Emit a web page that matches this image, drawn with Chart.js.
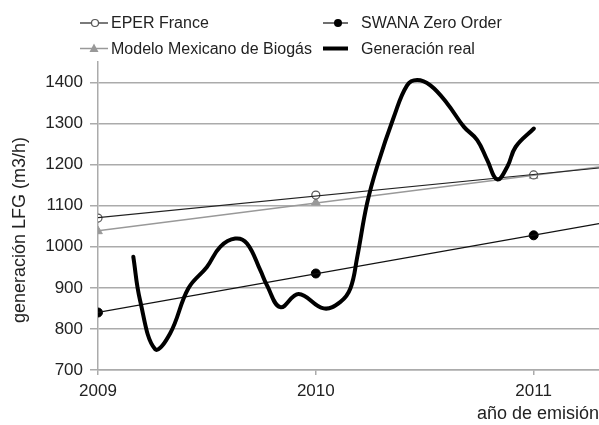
<!DOCTYPE html>
<html>
<head>
<meta charset="utf-8">
<script src="https://cdn.jsdelivr.net/npm/chart.js@4.4.1/dist/chart.umd.min.js"></script>
<style>
  html, body { margin: 0; padding: 0; background: #fff; }
  #wrap { width: 599px; height: 425px; position: relative; }
</style>
</head>
<body>
<div id="wrap"><canvas id="c" width="599" height="425"></canvas></div>
<script>
// ---- data ----
const years = [2009, 2010, 2011];
const yearTicks = [2009, 2010, 2011];
const yTicks = [700, 800, 900, 1000, 1100, 1200, 1300, 1400];
const eperFrance = [1070, 1126, 1175];
const modeloMexicano = [1038, 1108, 1173];
const swanaZeroOrder = [840, 935, 1028];
const realX = [2009.162, 2009.193, 2009.262, 2009.331, 2009.415, 2009.5, 2009.561, 2009.63, 2009.684,
  2009.745, 2009.775, 2009.837, 2009.921, 2010.036, 2010.113, 2010.159, 2010.19, 2010.235, 2010.281,
  2010.358, 2010.419, 2010.465, 2010.526, 2010.603, 2010.68, 2010.741, 2010.787, 2010.833, 2010.879,
  2010.917, 2011.001];
const realY = [976, 870, 751, 789, 899, 951, 1000, 1020, 1008,
  943, 907, 853, 885, 850, 866, 899, 975, 1105, 1195,
  1316, 1393, 1406, 1393, 1349, 1292, 1260, 1211, 1164, 1195,
  1243, 1288];
const labels = ['EPER France', 'SWANA Zero Order', 'Modelo Mexicano de Biogás', 'Generación real'];
const xMin = 2009, xMax = 2011.3, yMin = 700, yMax = 1450;

// linear trend line (least squares) from a series
function trend(xs, ys) {
  const n = xs.length;
  const mx = xs.reduce((a, b) => a + b, 0) / n;
  const my = ys.reduce((a, b) => a + b, 0) / n;
  let sxy = 0, sxx = 0;
  for (let i = 0; i < n; i++) { sxy += (xs[i] - mx) * (ys[i] - my); sxx += (xs[i] - mx) ** 2; }
  const b = sxy / sxx, a = my - b * mx;
  return [{ x: xMin, y: a + b * xMin }, { x: xMax, y: a + b * xMax }];
}
const pts = (xs, ys) => xs.map((x, i) => ({ x, y: ys[i] }));

const FONT = '"Liberation Sans", Arial, Helvetica, sans-serif';
const TXT = '#222';
const GRID = '#ababab';

const legendPlugin = {
  id: 'customLegend',
  afterDraw(chart) {
    const ctx = chart.ctx;
    ctx.save();
    ctx.font = '16px ' + FONT;
    ctx.fillStyle = TXT;
    ctx.textBaseline = 'middle';
    ctx.textAlign = 'left';
    const items = [
      { label: labels[0], lx: 80, rx: 108, mx: 95, tx: 111, y: 23, line: '#222', lw: 1.2, mk: 'open' },
      { label: labels[1], lx: 323, rx: 348, mx: 338, tx: 361, y: 23, line: '#111', lw: 1.2, mk: 'dot' },
      { label: labels[2], lx: 80, rx: 108, mx: 94, tx: 111, y: 48.5, line: '#999', lw: 1.5, mk: 'tri' },
      { label: labels[3], lx: 323, rx: 348, mx: 0, tx: 361, y: 48.5, line: '#000', lw: 4, mk: null }
    ];
    items.forEach(it => {
      ctx.beginPath();
      ctx.strokeStyle = it.line;
      ctx.lineWidth = it.lw;
      ctx.moveTo(it.lx, it.y); ctx.lineTo(it.rx, it.y);
      ctx.stroke();
      if (it.mk === 'open') {
        ctx.beginPath(); ctx.arc(it.mx, it.y, 3.5, 0, Math.PI * 2);
        ctx.fillStyle = '#fff'; ctx.fill();
        ctx.strokeStyle = '#555'; ctx.lineWidth = 1.2; ctx.stroke();
      } else if (it.mk === 'dot') {
        ctx.beginPath(); ctx.arc(it.mx, it.y, 4, 0, Math.PI * 2);
        ctx.fillStyle = '#000'; ctx.fill();
      } else if (it.mk === 'tri') {
        ctx.beginPath();
        ctx.moveTo(it.mx, it.y - 5); ctx.lineTo(it.mx + 4.5, it.y + 3.5); ctx.lineTo(it.mx - 4.5, it.y + 3.5);
        ctx.closePath(); ctx.fillStyle = '#999'; ctx.fill();
      }
      ctx.fillStyle = TXT;
      ctx.fillText(it.label, it.tx, it.y + 1);
    });
    // y axis title
    ctx.save();
    ctx.translate(20, 230);
    ctx.rotate(-Math.PI / 2);
    ctx.textAlign = 'center';
    ctx.textBaseline = 'middle';
    ctx.font = '18px ' + FONT;
    ctx.fillText('generación LFG (m3/h)', 0, 0);
    ctx.restore();
    ctx.restore();
  }
};

new Chart(document.getElementById('c'), {
  type: 'scatter',
  data: {
    datasets: [
      { label: labels[3], data: pts(realX, realY), showLine: true, borderColor: '#000', borderWidth: 4,
        pointRadius: 0, tension: 0.4, borderCapStyle: 'round', borderJoinStyle: 'round' },
      { label: labels[0] + ' trend', data: trend(years, eperFrance), showLine: true, borderColor: '#222', borderWidth: 1.2, pointRadius: 0 },
      { label: labels[2] + ' trend', data: trend(years, modeloMexicano), showLine: true, borderColor: '#999', borderWidth: 1.5, pointRadius: 0 },
      { label: labels[1] + ' trend', data: trend(years, swanaZeroOrder), showLine: true, borderColor: '#111', borderWidth: 1.2, pointRadius: 0 },
      { label: labels[0], data: pts(years, eperFrance), showLine: false, pointStyle: 'circle', pointRadius: 4,
        pointBackgroundColor: '#fff', pointBorderColor: '#555', pointBorderWidth: 1.2 },
      { label: labels[2], data: pts(years, modeloMexicano), showLine: false, pointStyle: 'triangle', pointRadius: 5,
        pointBackgroundColor: '#999', pointBorderColor: '#999', pointBorderWidth: 1 },
      { label: labels[1], data: pts(years, swanaZeroOrder), showLine: false, pointStyle: 'circle', pointRadius: 4.5,
        pointBackgroundColor: '#000', pointBorderColor: '#000', pointBorderWidth: 1 }
    ]
  },
  options: {
    responsive: false,
    animation: false,
    layout: { autoPadding: false, padding: { top: 62, left: 0, right: 0, bottom: 0 } },
    plugins: { legend: { display: false }, tooltip: { enabled: false } },
    scales: {
      x: {
        type: 'linear', min: xMin, max: xMax,
        afterBuildTicks: s => { s.ticks = yearTicks.map(v => ({ value: v })); },
        afterFit: s => { s.height = 55; s.paddingRight = 0; s.paddingLeft = 0; },
        grid: { display: true, drawOnChartArea: false, drawTicks: true, tickLength: 5, color: GRID, lineWidth: 1.5 },
        border: { display: true, color: GRID, width: 1.5 },
        ticks: { color: TXT, font: { family: FONT, size: 17 }, padding: 6, maxRotation: 0,
          callback: v => String(v) },
        title: { display: true, text: 'año de emisión', align: 'end', color: TXT,
          font: { family: FONT, size: 18 }, padding: { top: 0, bottom: 0 } }
      },
      y: {
        type: 'linear', min: yMin, max: yMax,
        afterBuildTicks: s => { s.ticks = yTicks.map(v => ({ value: v })); },
        afterFit: s => { s.width = 98; s.paddingTop = 0; s.paddingBottom = 0; },
        grid: { color: GRID, lineWidth: 1.5, tickLength: 8 },
        border: { display: true, color: GRID, width: 1.5 },
        ticks: { color: TXT, font: { family: FONT, size: 17 }, padding: 7, callback: v => String(v) }
      }
    }
  },
  plugins: [legendPlugin]
});
</script>
</body>
</html>
